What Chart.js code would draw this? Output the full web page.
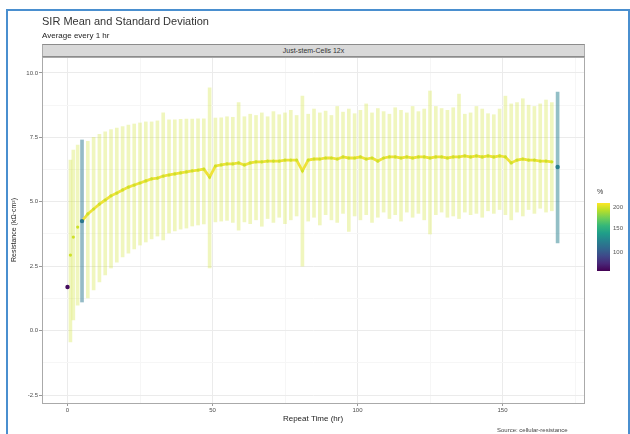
<!DOCTYPE html>
<html lang="en">
<head>
  <meta charset="UTF-8">
  <title>SIR Mean and Standard Deviation</title>
  <script src="https://cdn.jsdelivr.net/npm/chart.js"></script>
  <style>
    body { margin: 0; background: #fff; font-family: "Liberation Sans", Arial, sans-serif; }
    #wrap { position: relative; width: 630px; height: 434px; overflow: hidden; }
    #frame { position: absolute; left: 6px; top: 9px; width: 620px; height: 430px;
             border-left: 2px solid #4a8fcf; border-top: 2px solid #4a8fcf; border-right: 2px solid #4a8fcf; }
    .txt { position: absolute; white-space: nowrap; color: #222; }
    #panel { position: absolute; left: 42px; top: 57px; width: 541px; height: 345px; border: 1px solid #aaa; pointer-events: none; }
    #strip { position: absolute; left: 42px; top: 44px; width: 541px; height: 11px; background: #d9d9d9;
             border-top: 1px solid #8c8c8c; border-bottom: 1px solid #8c8c8c; border-left: 1px solid #aaa; border-right: 1px solid #aaa;
             font-size: 7px; line-height: 11px; text-align: center; color: #333; }
    #cbar { position: absolute; left: 597px; top: 203px; width: 13px; height: 68px;
            background: linear-gradient(to bottom, #fde725, #b5de2b, #6ece58, #35b779, #1f9e89, #26828e, #31688e, #3e4989, #482878, #440154); }
    .cl { position: absolute; left: 613px; font-size: 6px; color: #555; }
  </style>
</head>
<body>
<div id="wrap">
  <canvas id="sirChart" width="630" height="434" style="position:absolute;left:0;top:0;"></canvas>
  <div id="frame"></div>
  <div class="txt" style="left:42px;top:15px;font-size:11px;color:#333;">SIR Mean and Standard Deviation</div>
  <div class="txt" style="left:42px;top:31px;font-size:8px;">Average every 1 hr</div>
  <div id="strip">Just-stem-Cells 12x</div>
  <div id="panel"></div>
  <div class="txt" style="left:597px;top:188px;font-size:7px;color:#333;">%</div>
  <div id="cbar"></div>
  <div class="cl" style="top:204px;">200</div>
  <div class="cl" style="top:225px;">150</div>
  <div class="cl" style="top:249px;">100</div>
  <div class="txt" style="left:497px;top:427px;font-size:6px;color:#444;">Source: cellular-resistance</div>
</div>

<script>
  // --- DATA ---
  const hours = [0, 1, 2, 3.5, 5,
    7, 9, 11, 13, 15, 17, 19, 21, 23, 25, 27, 29, 31, 33, 35, 37, 39, 41, 43, 45, 47,
    49,
    51, 53, 55, 57, 59, 61, 63, 65, 67, 69, 71, 73, 75, 77, 79,
    81,
    83, 85, 87, 89, 91, 93, 95, 97, 99, 101, 103, 105, 107, 109, 111, 113, 115, 117, 119, 121,
    123, 125, 127, 129, 131, 133, 135, 137, 139, 141, 143, 145, 147, 149, 151,
    153,
    155, 157, 159, 161, 163, 165, 167,
    169];

  const meanRes = [1.69, 2.93, 3.63, 4.02, 4.25,
    4.53, 4.72, 4.91, 5.07, 5.23, 5.34, 5.46, 5.57, 5.65, 5.73, 5.81, 5.89, 5.92, 6.00, 6.04, 6.08, 6.12, 6.16, 6.20, 6.23, 6.27,
    5.96,
    6.39, 6.43, 6.47, 6.47, 6.51, 6.43, 6.51, 6.55, 6.55, 6.58, 6.58, 6.58, 6.62, 6.62, 6.62,
    6.20,
    6.62, 6.66, 6.66, 6.70, 6.70, 6.66, 6.74, 6.70, 6.70, 6.74, 6.66, 6.70, 6.58, 6.70, 6.74, 6.74, 6.70, 6.74, 6.70, 6.74,
    6.74, 6.70, 6.74, 6.74, 6.70, 6.74, 6.74, 6.78, 6.74, 6.78, 6.74, 6.78, 6.74, 6.78, 6.74,
    6.51,
    6.62, 6.66, 6.62, 6.62, 6.58, 6.58, 6.55,
    6.35];

  const hiRes = [1.69, 6.62, 7.01, 7.20, 7.40,
    7.35, 7.50, 7.62, 7.72, 7.80, 7.86, 7.92, 7.98, 8.02, 8.06, 8.10, 8.10, 8.14, 8.45, 8.18, 8.18, 8.20, 8.21, 8.21, 8.22, 8.22,
    9.42,
    8.25, 8.26, 8.30, 8.28, 8.85, 8.30, 8.40, 8.35, 8.45, 8.30, 8.50, 8.38, 8.45, 8.55, 8.35,
    9.10,
    8.40, 8.60, 8.45, 8.52, 8.35, 8.70, 8.48, 8.60, 8.42, 8.55, 8.80, 8.45, 8.62, 8.50, 8.40, 8.65, 8.55, 8.45, 8.70, 8.50,
    8.60, 9.30, 8.70, 8.62, 8.55, 8.65, 9.18, 8.40, 8.45, 8.70, 8.60, 8.42, 8.38, 8.60, 9.10,
    8.80,
    8.85, 9.00, 8.75, 8.70, 8.80, 8.95, 8.85,
    9.26];

  const loRes = [1.69, -0.44, 0.41, 0.99, 1.11,
    1.27, 1.58, 1.89, 2.16, 2.43, 2.66, 2.86, 3.01, 3.17, 3.32, 3.44, 3.56, 3.67, 3.52, 3.79, 3.87, 3.94, 3.98, 4.06, 4.10, 4.14,
    2.43,
    4.22, 4.25, 4.28, 4.20, 3.90, 4.22, 4.15, 4.30, 4.05, 4.35, 4.20, 4.40, 4.15, 4.30, 4.45,
    2.50,
    4.25, 4.40, 4.10, 4.50, 4.30, 4.20, 4.55, 3.85, 4.45, 4.30, 4.50, 4.20, 4.40, 4.60, 4.35, 4.50, 4.25, 4.60, 4.40, 4.55,
    4.30, 3.75, 4.50, 4.60, 4.40, 4.45, 4.35, 4.60, 4.50, 4.55, 4.40, 4.65, 4.55, 4.70, 4.50,
    4.30,
    4.60, 4.45, 4.70, 4.55, 4.75, 4.60, 4.65,
    3.40];

  const pctCover = [65, 200, 200, 200, 120,
    200, 200, 200, 200, 200, 200, 200, 200, 200, 200, 200, 200, 200, 200, 200, 200, 200, 200, 200, 200, 200,
    200,
    200, 200, 200, 200, 200, 200, 200, 200, 200, 200, 200, 200, 200, 200, 200,
    200,
    200, 200, 200, 200, 200, 200, 200, 200, 200, 200, 200, 200, 200, 200, 200, 200, 200, 200, 200, 200,
    200, 200, 200, 200, 200, 200, 200, 200, 200, 200, 200, 200, 200, 200, 200,
    200,
    200, 200, 200, 200, 200, 200, 200,
    125];

  const xTicks = [0, 50, 100, 150];
  const yTicks = [-2.5, 0.0, 2.5, 5.0, 7.5, 10.0];

  // --- COLOUR SCALE (viridis) ---
  const viridis = [[68,1,84],[72,40,120],[62,73,137],[49,104,142],[38,130,142],[31,158,137],[53,183,121],[110,206,88],[181,222,43],[253,231,37]];
  function pctColor(p, a) {
    let t = Math.min(1, Math.max(0, (p - 60) / (211 - 60))) * (viridis.length - 1);
    const i = Math.min(viridis.length - 2, Math.floor(t));
    const f = t - i;
    const c = viridis[i].map((v, k) => Math.round(v + (viridis[i + 1][k] - v) * f));
    return `rgba(${c[0]},${c[1]},${c[2]},${a})`;
  }

  const isMajor = (v, step) => Math.abs(v / step - Math.round(v / step)) < 1e-6;

  // line starts at the first full-coverage hour run (index 4) and stops before the last sample
  const lineData = hours.map((h, i) => ({ x: h, y: meanRes[i] })).slice(4, hours.length - 1);

  new Chart(document.getElementById('sirChart').getContext('2d'), {
    data: {
      datasets: [
        {
          type: 'scatter',
          data: hours.map((h, i) => ({ x: h, y: meanRes[i] })),
          pointBackgroundColor: pctCover.map(p => pctColor(p, 1)),
          pointBorderWidth: 0,
          pointRadius: pctCover.map(p => p < 190 ? 2.2 : 1.6),
          order: 0
        },
        {
          type: 'line',
          data: lineData,
          borderColor: '#efe23a',
          borderWidth: 2.8,
          pointRadius: 0,
          tension: 0,
          order: 1
        },
        {
          type: 'bar',
          data: hours.map((h, i) => ({ x: h, y: [loRes[i], hiRes[i]] })),
          backgroundColor: pctCover.map(p => pctColor(p, p < 190 ? 0.5 : 0.3)),
          barThickness: 3,
          order: 2
        }
      ]
    },
    options: {
      responsive: false,
      animation: false,
      devicePixelRatio: 1,
      layout: { padding: { left: 10, top: 57, right: 46, bottom: 10 } },
      plugins: { legend: { display: false }, tooltip: { enabled: false } },
      scales: {
        x: {
          type: 'linear',
          offset: false,
          min: -8.8,
          max: 178.1,
          afterFit: s => { s.height = 21; },
          ticks: {
            stepSize: 25,
            includeBounds: false,
            autoSkip: false,
            maxRotation: 0,
            padding: 1,
            color: '#4d4d4d',
            font: { size: 6 },
            callback: v => xTicks.includes(v) ? String(v) : ''
          },
          grid: {
            offset: false,
            color: c => c.tick && isMajor(c.tick.value, 50) ? '#ebebeb' : '#f6f6f6',
            tickColor: c => c.tick && isMajor(c.tick.value, 50) ? '#999' : 'rgba(0,0,0,0)',
            tickLength: 3
          },
          border: { color: '#888' },
          title: { display: true, text: 'Repeat Time (hr)', color: '#222', font: { size: 8 }, padding: { top: 0, bottom: 0 } }
        },
        y: {
          min: -2.81,
          max: 10.62,
          afterFit: s => { s.width = 32; },
          ticks: {
            stepSize: 1.25,
            includeBounds: false,
            autoSkip: false,
            padding: 1,
            color: '#4d4d4d',
            font: { size: 6 },
            callback: v => yTicks.some(t => Math.abs(t - v) < 1e-6) ? v.toFixed(1) : ''
          },
          grid: {
            color: c => c.tick && isMajor(c.tick.value, 2.5) ? '#ebebeb' : '#f6f6f6',
            tickColor: c => c.tick && isMajor(c.tick.value, 2.5) ? '#999' : 'rgba(0,0,0,0)',
            tickLength: 3
          },
          border: { color: '#888' },
          title: { display: true, text: 'Resistance (kΩ·cm²)', color: '#222', font: { size: 7 }, padding: { top: 0, bottom: 2 } }
        }
      }
    }
  });
</script>
</body>
</html>
